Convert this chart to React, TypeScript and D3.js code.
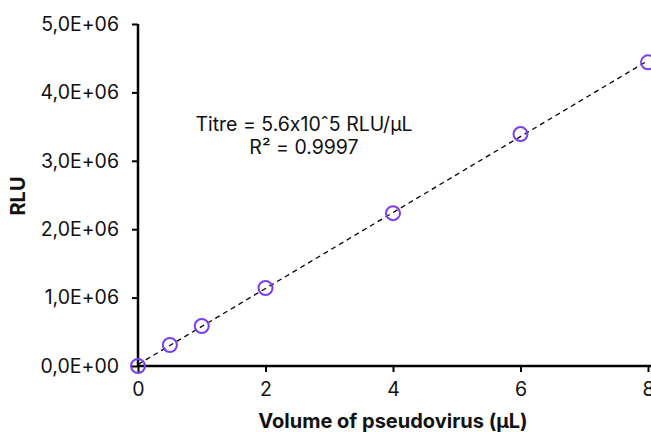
import React, { useEffect, useRef } from 'react';
import * as d3 from 'd3';

const volumes = [0, 0.5, 1, 2, 4, 6, 8];
const rlu = [0, 307000, 585000, 1140000, 2235000, 3390000, 4440000];
const xTicks = [0, 2, 4, 6, 8];
const yTicks = [0, 1e6, 2e6, 3e6, 4e6, 5e6];
const annotation = ['Titre = 5.6x10ˆ5 RLU/µL', 'R² = 0.9997'];

const font = 'Inter, "Open Sans", sans-serif';

const App = () => {
	const ref = useRef(null);

	useEffect(() => {
		const svg = d3.select(ref.current);
		svg.selectAll('*').remove();

		const x = d3.scaleLinear().domain([0, 8]).range([138, 648]);
		const y = d3.scaleLinear().domain([0, 5e6]).range([366, 24]);

		const fmt = v => {
			const e = v === 0 ? 0 : Math.floor(Math.log10(v));
			const m = v === 0 ? 0 : v / Math.pow(10, e);
			return `${m.toFixed(1).replace('.', ',')}E+${String(e).padStart(2, '0')}`;
		};

		const textStyle = (sel, size, weight) =>
			sel
				.style('font-family', font)
				.style('font-size', `${size}px`)
				.style('font-weight', weight)
				.style('font-feature-settings', '"calt" 0')
				.attr('fill', '#111');

		// y axis
		const yAxis = svg
			.append('g')
			.attr('transform', 'translate(138,0)')
			.call(d3.axisLeft(y).tickValues(yTicks).tickFormat(fmt).tickSize(6).tickPadding(13));
		yAxis.select('.domain').attr('stroke-width', 2.5).attr('d', 'M0,24V366');
		yAxis.selectAll('line').attr('stroke-width', 2);
		textStyle(yAxis.selectAll('text'), 19.5, 'normal');

		// x axis
		const xAxis = svg
			.append('g')
			.attr('transform', 'translate(0,366)')
			.call(d3.axisBottom(x).tickValues(xTicks).tickSize(6).tickPadding(10));
		xAxis.select('.domain').attr('stroke-width', 2.5).attr('d', 'M138,0H651');
		xAxis.selectAll('line').attr('stroke-width', 2);
		textStyle(xAxis.selectAll('text'), 19.5, 'normal');

		// least squares trendline
		const mx = d3.mean(volumes);
		const my = d3.mean(rlu);
		let sxy = 0;
		let sxx = 0;
		volumes.forEach((v, i) => {
			sxy += (v - mx) * (rlu[i] - my);
			sxx += (v - mx) * (v - mx);
		});
		const slope = sxy / sxx;
		const intercept = my - slope * mx;
		svg
			.append('line')
			.attr('x1', x(0))
			.attr('y1', y(intercept))
			.attr('x2', x(8))
			.attr('y2', y(intercept + slope * 8))
			.attr('stroke', '#000')
			.attr('stroke-width', 1.3)
			.attr('stroke-dasharray', '5,4');

		svg
			.append('g')
			.selectAll('circle')
			.data(volumes)
			.enter()
			.append('circle')
			.attr('cx', d => x(d))
			.attr('cy', (d, i) => y(rlu[i]))
			.attr('r', 7)
			.attr('fill', 'none')
			.attr('stroke', '#7b3ff2')
			.attr('stroke-width', 2);

		textStyle(
			svg
				.append('g')
				.selectAll('text')
				.data(annotation)
				.enter()
				.append('text')
				.attr('x', 304)
				.attr('y', (d, i) => 131 + i * 23)
				.attr('text-anchor', 'middle')
				.text(d => d),
			19.5,
			'normal'
		);

		textStyle(
			svg
				.append('text')
				.attr('x', 393)
				.attr('y', 428)
				.attr('text-anchor', 'middle')
				.text('Volume of pseudovirus (µL)'),
			20,
			'bold'
		);

		textStyle(
			svg
				.append('text')
				.attr('transform', 'translate(25,196) rotate(-90)')
				.attr('text-anchor', 'middle')
				.text('RLU'),
			20,
			'bold'
		);
	}, []);

	return (
		<svg
			ref={ref}
			width={651}
			height={432}
			style={{ position: 'absolute', left: 0, top: 0, background: '#fff' }}
		/>
	);
};

export default App;
